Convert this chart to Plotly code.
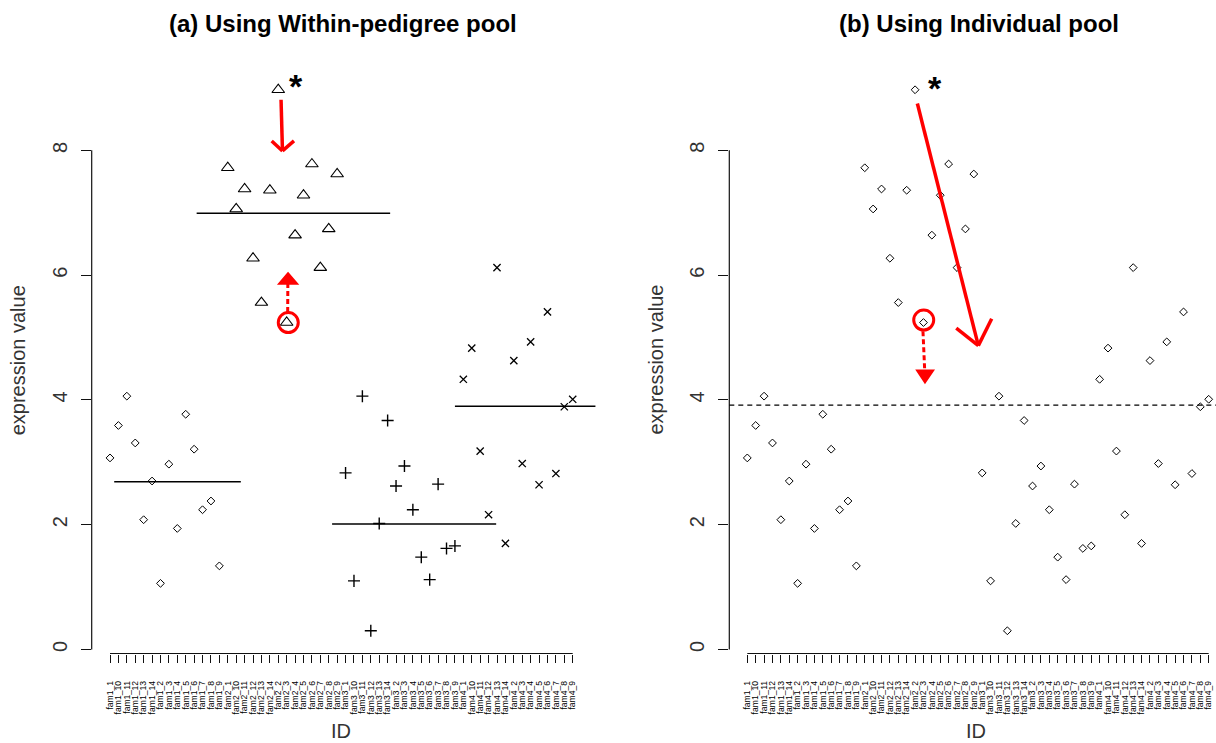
import numpy as np
import plotly.graph_objects as go

W, H = 1216, 743

# ---------------- data ----------------
families = ["fam1", "fam2", "fam3", "fam4"]
suffixes = ["1", "10", "11", "12", "13", "14", "2", "3", "4", "5", "6", "7", "8", "9"]
ids = [f + "_" + s for f in families for s in suffixes]

fam1_vals = [3.07, 3.59, 4.06, 3.31, 2.08, 2.70, 1.06, 2.97, 1.94, 3.77, 3.21, 2.24, 2.38, 1.34]
fam2_vals = [7.72, 7.06, 7.38, 6.27, 5.56, 7.36, 8.97, 5.24, 6.64, 7.28, 7.78, 6.12, 6.74, 7.62]
fam3_vals = [2.83, 1.10, 4.06, 0.30, 2.02, 3.67, 2.62, 2.94, 2.24, 1.48, 1.12, 2.65, 1.62, 1.66]
fam4_vals = [4.33, 4.83, 3.18, 2.16, 6.12, 1.70, 4.63, 2.98, 4.93, 2.64, 5.41, 2.82, 3.89, 4.01]

# within-pedigree pool levels (panel a) and their extent in ID-index units
pool_level = [2.69, 6.99, 2.01, 3.90]
pool_from = [0.5, 10.3, 26.4, 41.0]
pool_to = [15.55, 33.3, 45.9, 57.7]

y_ticks = [0, 2, 4, 6, 8]

# red hand-drawn annotations (ID-index, expression value)
a_arrow = dict(shaft=[(20.33, 8.81), (20.50, 7.99)], left=(19.22, 8.15), right=(21.87, 8.15))
a_circle = (21.19, 5.24)
a_dash = [(21.12, 5.41), (21.14, 5.86)]
a_head = [(21.17, 6.03), (20.10, 5.86), (22.24, 5.86)]
a_star = (22.11, 9.09)

b_arrow = dict(shaft=[(20.27, 8.75), (27.54, 4.87)], left=(24.91, 5.15), right=(29.13, 5.30))
b_circle = (21.03, 5.28)
b_dash = [(20.94, 5.10), (21.15, 4.46)]
b_head = [(21.18, 4.28), (20.24, 4.47), (22.15, 4.47)]
b_star = (22.37, 9.07)

# ---------------- layout helpers ----------------
def fx(px):
    return px / W

def fy(py):
    return 1 - py / H

Y_ZERO_PX, Y_UNIT_PX = 649.5, 62.4
PLOT_TOP, PLOT_BOT = 60.0, 653.5
y_range = [(Y_ZERO_PX - PLOT_BOT) / Y_UNIT_PX, (Y_ZERO_PX - PLOT_TOP) / Y_UNIT_PX]

A_FIRST, A_STEP, A_LEFT, A_RIGHT = 110.0, 8.413, 91.7, 596.0
B_FIRST, B_STEP, B_LEFT, B_RIGHT = 747.3, 8.389, 729.3, 1216.0

groups = [fam1_vals, fam2_vals, fam3_vals, fam4_vals]
symbols = ["diamond-open", "triangle-up-open", "cross-thin-open", "x-thin-open"]
sizes = [6, 11, 8.6, 7.2]
lwidths = [1.0, 1.1, 1.4, 1.3]

idx = np.arange(len(ids))
all_vals = [v for g in groups for v in g]

FONT = "Liberation Sans, Arial, sans-serif"

fig = go.Figure()

start = 0
for g, vals in enumerate(groups):
    xs = idx[start:start + len(vals)]
    start += len(vals)
    fig.add_trace(go.Scatter(
        x=xs, y=vals, mode="markers", xaxis="x", yaxis="y",
        marker=dict(symbol=symbols[g], size=sizes[g], color="black",
                    line=dict(color="black", width=lwidths[g])),
        showlegend=False, hoverinfo="skip"))

for g in range(len(pool_level)):
    fig.add_trace(go.Scatter(
        x=[pool_from[g], pool_to[g]], y=[pool_level[g], pool_level[g]],
        mode="lines", xaxis="x", yaxis="y",
        line=dict(color="black", width=1.5), showlegend=False, hoverinfo="skip"))

fig.add_trace(go.Scatter(
    x=idx, y=all_vals, mode="markers", xaxis="x2", yaxis="y2",
    marker=dict(symbol="diamond-open", size=6, color="black",
                line=dict(color="black", width=1.0)),
    showlegend=False, hoverinfo="skip"))

overall_mean = float(np.mean(all_vals))


def xaxis_cfg(left, right, first, step):
    return dict(
        domain=[fx(left), fx(right)],
        range=[(left - first) / step, (right - first) / step],
        tickmode="array", tickvals=list(idx), ticktext=ids,
        tickangle=-90, ticks="outside", ticklen=8, tickwidth=1, tickcolor="#111",
        tickfont=dict(size=8.6, color="#000", family=FONT),
        ticklabelstandoff=15,
        showline=False, showgrid=False, zeroline=False, fixedrange=True)


def yaxis_cfg(anchor):
    return dict(
        domain=[fy(PLOT_BOT), fy(PLOT_TOP)], range=y_range, anchor=anchor,
        tickmode="array", tickvals=y_ticks, ticktext=[str(t) for t in y_ticks],
        tickangle=-90, ticks="outside", ticklen=10, tickwidth=1, tickcolor="#111",
        tickfont=dict(size=20, color="#333", family=FONT),
        ticklabelstandoff=6,
        showline=False, showgrid=False, zeroline=False, fixedrange=True)


xa = xaxis_cfg(A_LEFT, A_RIGHT, A_FIRST, A_STEP)
xa["anchor"] = "y"
xb = xaxis_cfg(B_LEFT, B_RIGHT, B_FIRST, B_STEP)
xb["anchor"] = "y2"

shapes = []
# R-style axis lines (from first to last tick)
for xr, yr in (("x", "y"), ("x2", "y2")):
    shapes.append(dict(type="line", xref=xr + " domain", yref=yr, x0=0, x1=0,
                       y0=y_ticks[0], y1=y_ticks[-1], line=dict(color="#111", width=1.2)))
    shapes.append(dict(type="line", xref=xr, yref=yr + " domain", x0=idx[0], x1=idx[-1],
                       y0=0, y1=0, line=dict(color="#111", width=1.2)))

# overall pool line (panel b)
shapes.append(dict(type="line", xref="x2 domain", yref="y2", x0=0, x1=1,
                   y0=overall_mean, y1=overall_mean,
                   line=dict(color="black", width=1.3, dash="5px,4px")))

RED = "#ff0000"


def add_red(xr, yr, arrow, circle, dash, head, rx, ry):
    (x0, y0), (x1, y1) = arrow["shaft"]
    shapes.append(dict(type="line", xref=xr, yref=yr, x0=x0, y0=y0, x1=x1, y1=y1,
                       line=dict(color=RED, width=3.5)))
    for arm in (arrow["left"], arrow["right"]):
        shapes.append(dict(type="line", xref=xr, yref=yr, x0=arm[0], y0=arm[1], x1=x1, y1=y1,
                           line=dict(color=RED, width=3.5)))
    cx, cy = circle
    shapes.append(dict(type="circle", xref=xr, yref=yr, x0=cx - rx, x1=cx + rx,
                       y0=cy - ry, y1=cy + ry, line=dict(color=RED, width=3)))
    (d0x, d0y), (d1x, d1y) = dash
    shapes.append(dict(type="line", xref=xr, yref=yr, x0=d0x, y0=d0y, x1=d1x, y1=d1y,
                       line=dict(color=RED, width=3, dash="5px,3px")))
    p = "M {} {} L {} {} L {} {} Z".format(head[0][0], head[0][1], head[1][0], head[1][1],
                                            head[2][0], head[2][1])
    shapes.append(dict(type="path", xref=xr, yref=yr, path=p, fillcolor=RED,
                       line=dict(color=RED, width=2)))


add_red("x", "y", a_arrow, a_circle, a_dash, a_head, 10 / A_STEP, 10 / Y_UNIT_PX)
add_red("x2", "y2", b_arrow, b_circle, b_dash, b_head, 10 / B_STEP, 10 / Y_UNIT_PX)

annotations = [
    dict(text="(a) Using Within-pedigree pool", x=fx(343), y=fy(24), xref="paper", yref="paper",
         xanchor="center", yanchor="middle", showarrow=False,
         font=dict(size=24, color="black", family=FONT, weight="bold")),
    dict(text="(b) Using Individual pool", x=fx(978.5), y=fy(24), xref="paper", yref="paper",
         xanchor="center", yanchor="middle", showarrow=False,
         font=dict(size=24, color="black", family=FONT, weight="bold")),
    dict(text="expression value", x=fx(18.3), y=fy(360), xref="paper", yref="paper",
         xanchor="center", yanchor="middle", textangle=-90, showarrow=False,
         font=dict(size=20, color="#333", family=FONT)),
    dict(text="expression value", x=fx(655.6), y=fy(360), xref="paper", yref="paper",
         xanchor="center", yanchor="middle", textangle=-90, showarrow=False,
         font=dict(size=20, color="#333", family=FONT)),
    dict(text="ID", x=fx(341), y=fy(731), xref="paper", yref="paper",
         xanchor="center", yanchor="middle", showarrow=False,
         font=dict(size=20, color="#333", family=FONT)),
    dict(text="ID", x=fx(976.4), y=fy(731), xref="paper", yref="paper",
         xanchor="center", yanchor="middle", showarrow=False,
         font=dict(size=20, color="#333", family=FONT)),
    dict(text="*", x=a_star[0], y=a_star[1], xref="x", yref="y", yshift=-4,
         xanchor="center", yanchor="middle", showarrow=False,
         font=dict(size=34, color="black", family=FONT, weight="bold")),
    dict(text="*", x=b_star[0], y=b_star[1], xref="x2", yref="y2", yshift=-4,
         xanchor="center", yanchor="middle", showarrow=False,
         font=dict(size=34, color="black", family=FONT, weight="bold")),
]

fig.update_layout(
    width=W, height=H, autosize=False,
    margin=dict(l=0, r=0, t=0, b=0, pad=0),
    paper_bgcolor="white", plot_bgcolor="white",
    xaxis=xa, yaxis=yaxis_cfg("x"), xaxis2=xb, yaxis2=yaxis_cfg("x2"),
    shapes=shapes, annotations=annotations, showlegend=False,
    font=dict(family=FONT),
)

fig.write_html(
    "out.html",
    config={"displayModeBar": False},
    post_script="document.body.style.margin='0px';document.body.style.overflow='hidden';",
)
